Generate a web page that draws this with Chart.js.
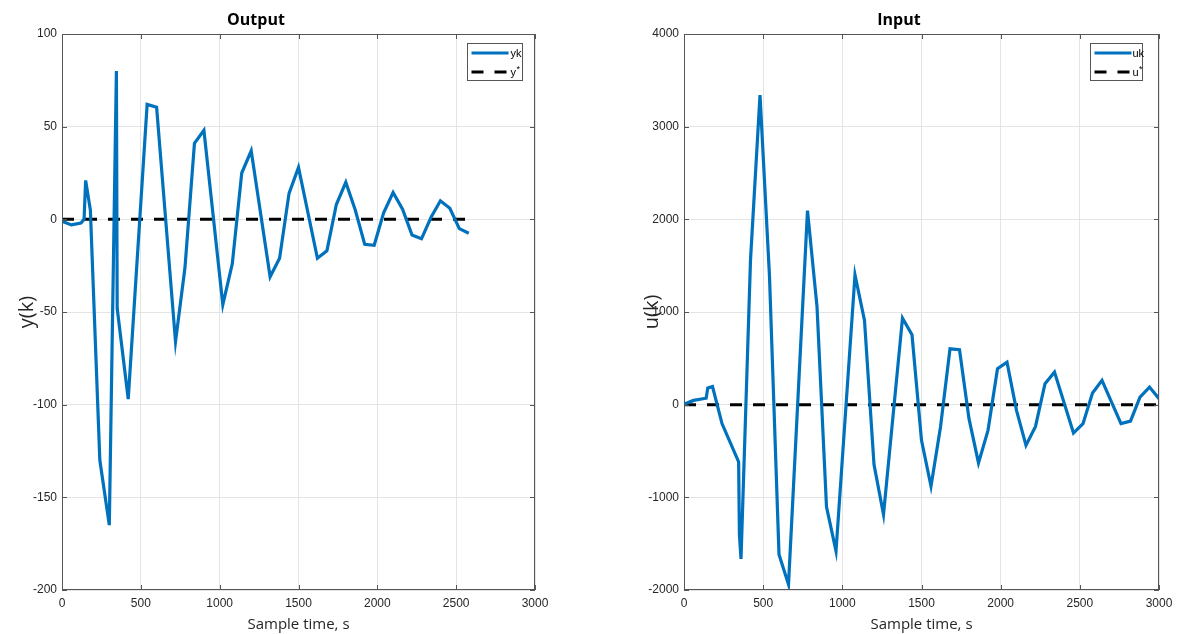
<!DOCTYPE html>
<html lang="en">
<head>
<meta charset="UTF-8">
<title>Output / Input</title>
<style>
  body { margin: 0; background: #fff; }
  #wrap { position: relative; width: 1179px; height: 634px; overflow: hidden; }
  canvas { position: absolute; top: 0; }
</style>
</head>
<body>
<div id="wrap">
  <canvas id="outChart" width="600" height="634" style="left:-23px"></canvas>
  <canvas id="inChart" width="540" height="634" style="left:639px"></canvas>
</div>
<script src="https://cdn.jsdelivr.net/npm/chart.js"></script>
<script>
// output y(k)
const tY = [0, 60, 120, 140, 150, 180, 240, 300, 345, 350, 420, 540, 600, 720, 780, 840, 900,
            1020, 1080, 1140, 1200, 1320, 1380, 1440, 1500, 1620, 1680, 1740, 1800, 1860, 1920,
            1980, 2040, 2100, 2160, 2220, 2280, 2340, 2400, 2460, 2520, 2580];
const yk = [-1, -3, -2, 0, 21, 5, -130, -165, 80, -48, -97, 62, 60.5, -66, -26, 41, 48,
            -46, -24, 25, 37, -31, -21, 14, 28, -21, -17, 8, 20, 5, -13.5,
            -14, 3.5, 14.5, 5.5, -8.5, -10.5, 1, 10, 6, -5, -7.5];
const yRefT = [0, 2580];
const yRef = 0;

// input u(k)
const tU = [0, 60, 120, 140, 150, 180, 240, 345, 350, 360, 420, 480, 540, 600, 660, 780, 840,
            900, 960, 1080, 1140, 1200, 1260, 1380, 1440, 1500, 1560, 1620, 1680, 1740, 1800,
            1860, 1920, 1980, 2040, 2100, 2160, 2220, 2280, 2340, 2460, 2520, 2580, 2640, 2760,
            2820, 2880, 2940, 3000];
const uk = [5, 46, 64, 70, 180, 195, -204, -618, -1400, -1665, 1560, 3340, 1383, -1616, -1940, 2094, 1059,
            -1103, -1580, 1401, 909, -646, -1185, 934, 754, -385, -880, -241, 603, 593, -151,
            -629, -277, 388, 459, -61, -439, -234, 226, 351, -306, -205, 125, 262, -205,
            -177, 82, 190, 65];
const uRefT = [0, 3000];
const uRef = 0;

const xTicks = [0, 500, 1000, 1500, 2000, 2500, 3000];
const yTicks = [-200, -150, -100, -50, 0, 50, 100];
const uTicks = [-2000, -1000, 0, 1000, 2000, 3000, 4000];

const blue = '#0072BD';
const axisColor = '#555555';

// matlab style box with inward ticks
const boxPlugin = {
  id: 'axBox',
  afterDraw(chart) {
    const {ctx, chartArea: a, scales} = chart;
    ctx.save();
    ctx.strokeStyle = axisColor;
    ctx.lineWidth = 1;
    ctx.strokeRect(a.left + 0.5, a.top + 0.5, a.width - 1, a.height - 1);
    ctx.beginPath();
    scales.x.ticks.forEach(t => {
      const px = Math.round(scales.x.getPixelForValue(t.value)) + 0.5;
      ctx.moveTo(px, a.bottom); ctx.lineTo(px, a.bottom - 5);
      ctx.moveTo(px, a.top); ctx.lineTo(px, a.top + 5);
    });
    scales.y.ticks.forEach(t => {
      const py = Math.round(scales.y.getPixelForValue(t.value)) + 0.5;
      ctx.moveTo(a.left, py); ctx.lineTo(a.left + 5, py);
      ctx.moveTo(a.right, py); ctx.lineTo(a.right - 5, py);
    });
    ctx.stroke();
    ctx.restore();
  }
};

const legendPlugin = {
  id: 'miniLegend',
  afterDraw(chart, args, opts) {
    const {ctx, chartArea: a} = chart;
    const w = opts.width, h = 37;
    const x0 = Math.round(a.right - opts.gap - w) + 0.5;
    const y0 = Math.round(a.top + 9) + 0.5;
    ctx.save();
    ctx.fillStyle = '#fff';
    ctx.fillRect(x0, y0, w, h);
    ctx.strokeStyle = axisColor;
    ctx.lineWidth = 1;
    ctx.strokeRect(x0, y0, w, h);
    chart.data.datasets.forEach((ds, i) => {
      const y = y0 + 9.5 + i * 19;
      ctx.strokeStyle = ds.borderColor;
      ctx.lineWidth = ds.borderWidth;
      ctx.setLineDash(ds.borderDash || []);
      ctx.beginPath();
      ctx.moveTo(x0 + 4, y);
      ctx.lineTo(x0 + 41, y);
      ctx.stroke();
      ctx.setLineDash([]);
      ctx.fillStyle = '#000';
      ctx.textBaseline = 'middle';
      ctx.font = '11px "Liberation Sans"';
      ctx.fillText(ds.label, x0 + opts.textX, y + 1);
      if (opts.star[i]) {
        const tw = ctx.measureText(ds.label).width;
        ctx.font = '9px "Liberation Sans"';
        ctx.fillText('*', x0 + opts.textX + tw + 0.5, y - 2);
      }
    });
    ctx.restore();
  }
};

function makeChart(id, o) {
  const tickFont = {family: 'Liberation Sans', size: 12};
  return new Chart(document.getElementById(id), {
    type: 'line',
    data: {
      datasets: [
        {
          label: o.labels[0],
          data: o.t.map((t, i) => ({x: t, y: o.v[i]})),
          borderColor: blue, borderWidth: 3.2, pointRadius: 0, tension: 0
        },
        {
          label: o.labels[1],
          data: o.refT.map(t => ({x: t, y: o.ref})),
          borderColor: '#000000', borderWidth: 3, borderDash: [12, 11], pointRadius: 0
        }
      ]
    },
    options: {
      responsive: false,
      animation: false,
      events: [],
      layout: {padding: {left: 0, right: o.padRight, top: 0, bottom: 0}},
      plugins: {
        legend: {display: false},
        tooltip: {enabled: false},
        title: {
          display: true, text: o.title, color: '#000',
          font: {family: 'Open Sans', size: 16, weight: 'bold'},
          padding: {top: 10.8, bottom: 4}
        },
        miniLegend: {width: o.legendW, gap: o.legendGap, textX: o.legendTextX, star: [false, true]}
      },
      scales: {
        x: {
          type: 'linear', min: 0, max: 3000,
          afterBuildTicks: s => { s.ticks = xTicks.map(v => ({value: v})); },
          ticks: {font: tickFont, color: '#262626', padding: 6, maxRotation: 0, callback: v => String(v)},
          grid: {color: '#e4e4e4', drawTicks: false},
          border: {display: false},
          title: {
            display: true, text: 'Sample time, s', color: '#262626',
            font: {family: 'Open Sans', size: 15}, padding: {top: 0, bottom: 0}
          },
          afterFit: s => { s.height = 44; }
        },
        y: {
          type: 'linear', min: o.yTicks[0], max: o.yTicks[o.yTicks.length - 1],
          afterBuildTicks: s => { s.ticks = o.yTicks.map(v => ({value: v})); },
          ticks: {font: tickFont, color: '#262626', padding: 5, callback: v => String(v)},
          grid: {color: '#e4e4e4', drawTicks: false},
          border: {display: false},
          title: {
            display: true, text: o.yTitle, color: '#262626',
            font: {family: 'Open Sans', size: 20}, padding: {top: o.yTitlePad, bottom: 0}
          },
          afterFit: s => { s.width = o.yWidth; }
        }
      }
    },
    plugins: [boxPlugin, legendPlugin]
  });
}

makeChart('outChart', {
  title: 'Output', yTitle: 'y(k)', labels: ['yk', 'y'],
  t: tY, v: yk, refT: yRefT, ref: yRef, yTicks: yTicks,
  padRight: 42, yWidth: 85, yTitlePad: 38.5, legendW: 55, legendGap: 13, legendTextX: 43
});

makeChart('inChart', {
  title: 'Input', yTitle: 'u(k)', labels: ['uk', 'u'],
  t: tU, v: uk, refT: uRefT, ref: uRef, yTicks: uTicks,
  padRight: 20, yWidth: 45, yTitlePad: 1, legendW: 52, legendGap: 17, legendTextX: 42
});
</script>
</body>
</html>
